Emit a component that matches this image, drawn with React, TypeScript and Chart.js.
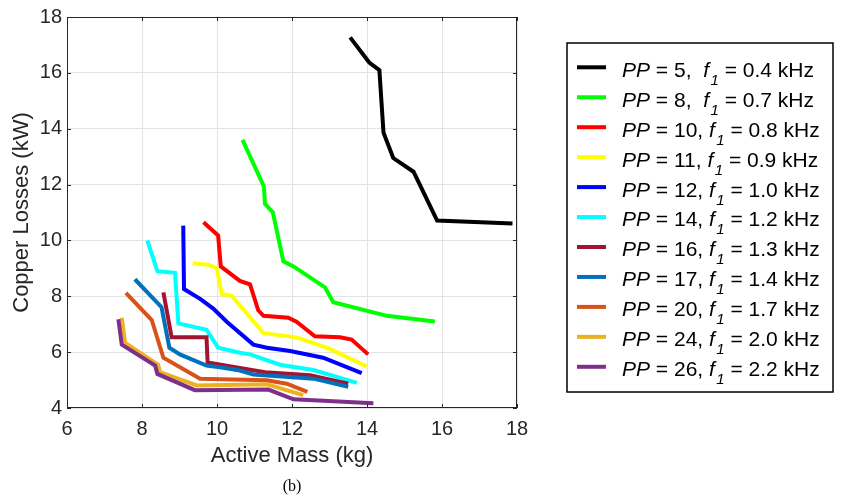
import React, { useEffect, useRef } from 'react';
import { Chart, registerables } from 'chart.js';

Chart.register(...registerables);

// ---- Data ----
const polePairs = [5, 8, 10, 11, 12, 14, 16, 17, 20, 24, 26];
const frequencies = ['0.4', '0.7', '0.8', '0.9', '1.0', '1.2', '1.3', '1.4', '1.7', '2.0', '2.2'];
const seriesColors = ['#000000', '#00ff00', '#ff0000', '#ffff00', '#0000ff', '#00ffff', '#a2142f', '#0072bd', '#d95319', '#edb120', '#7e2f8e'];

const xTicks = [6, 8, 10, 12, 14, 16, 18];
const yTicks = [4, 6, 8, 10, 12, 14, 16, 18];

const massPP5 = [13.55, 14.06, 14.33, 14.44, 14.70, 15.24, 15.87, 17.88];
const lossPP5 = [17.27, 16.37, 16.10, 13.86, 12.95, 12.46, 10.71, 10.61];

const massPP8 = [10.68, 11.25, 11.28, 11.49, 11.77, 12.04, 12.88, 13.10, 14.53, 15.81];
const lossPP8 = [13.60, 11.93, 11.31, 11.00, 9.25, 9.07, 8.32, 7.79, 7.30, 7.10];

const massPP10 = [9.64, 10.03, 10.10, 10.61, 10.88, 11.10, 11.24, 11.90, 12.12, 12.61, 13.28, 13.59, 14.03];
const lossPP10 = [10.65, 10.18, 9.07, 8.55, 8.43, 7.50, 7.30, 7.23, 7.09, 6.57, 6.53, 6.45, 5.92];

const massPP11 = [9.35, 9.77, 9.99, 10.13, 10.39, 11.24, 12.12, 12.93, 13.99];
const lossPP11 = [9.17, 9.13, 9.01, 8.08, 8.02, 6.68, 6.53, 6.16, 5.49];

const massPP12 = [9.10, 9.12, 9.55, 9.90, 10.26, 10.97, 11.33, 11.95, 12.83, 13.86];
const lossPP12 = [10.53, 8.26, 7.91, 7.56, 7.09, 6.27, 6.16, 6.04, 5.80, 5.25];

const massPP14 = [8.14, 8.41, 8.88, 8.97, 9.72, 10.03, 10.61, 10.88, 11.68, 12.57, 13.73];
const lossPP14 = [10.00, 8.90, 8.84, 7.03, 6.80, 6.16, 5.98, 5.92, 5.55, 5.36, 4.90];

const massPP16 = [8.57, 8.79, 9.72, 9.75, 11.28, 12.48, 13.50];
const lossPP16 = [8.14, 6.53, 6.53, 5.63, 5.28, 5.17, 4.87];

const massPP17 = [7.81, 8.52, 8.73, 9.01, 9.72, 10.08, 10.61, 10.97, 12.57, 13.50];
const lossPP17 = [8.61, 7.61, 6.16, 5.92, 5.52, 5.46, 5.34, 5.20, 5.05, 4.76];

const massPP20 = [7.57, 8.26, 8.57, 9.55, 11.33, 11.86, 12.41];
const lossPP20 = [8.12, 7.15, 5.80, 5.05, 4.99, 4.87, 4.58];

const massPP24 = [7.46, 7.55, 8.43, 8.48, 9.46, 11.33, 12.30];
const lossPP24 = [7.23, 6.33, 5.55, 5.28, 4.81, 4.85, 4.46];

const massPP26 = [7.37, 7.46, 8.35, 8.41, 9.41, 11.37, 12.04, 14.17];
const lossPP26 = [7.18, 6.27, 5.52, 5.22, 4.64, 4.66, 4.31, 4.17];

const massSeries = [massPP5, massPP8, massPP10, massPP11, massPP12, massPP14, massPP16, massPP17, massPP20, massPP24, massPP26];
const lossSeries = [lossPP5, lossPP8, lossPP10, lossPP11, lossPP12, lossPP14, lossPP16, lossPP17, lossPP20, lossPP24, lossPP26];

const FONT = "'Liberation Sans', Arial, Helvetica, sans-serif";

const framePlugin = {
  id: 'frameTicks',
  afterDatasetsDraw(chart: any) {
    const { ctx, chartArea, scales } = chart;
    const { left, right, top, bottom } = chartArea;
    ctx.save();
    ctx.strokeStyle = '#262626';
    ctx.lineWidth = 1;
    ctx.strokeRect(left + 0.5, top + 0.5, right - left - 1, bottom - top - 1);
    const len = 4;
    ctx.beginPath();
    xTicks.forEach((v) => {
      const px = Math.round(scales.x.getPixelForValue(v)) + 0.5;
      ctx.moveTo(px, bottom);
      ctx.lineTo(px, bottom - len);
      ctx.moveTo(px, top);
      ctx.lineTo(px, top + len);
    });
    yTicks.forEach((v) => {
      const py = Math.round(scales.y.getPixelForValue(v)) + 0.5;
      ctx.moveTo(left, py);
      ctx.lineTo(left + len, py);
      ctx.moveTo(right, py);
      ctx.lineTo(right - len, py);
    });
    ctx.stroke();
    ctx.restore();
  },
};

const legendPlugin = {
  id: 'customLegend',
  afterDraw(chart: any) {
    const { ctx } = chart;
    const bx = 567, by = 43, bw = 266, bh = 349;
    ctx.save();
    ctx.fillStyle = '#ffffff';
    ctx.fillRect(bx, by, bw, bh);
    ctx.strokeStyle = '#000000';
    ctx.lineWidth = 1.5;
    ctx.strokeRect(bx, by, bw, bh);
    const rowStart = 67.3;
    const rowGap = 29.95;
    const size = 21;
    const normal = `${size}px ${FONT}`;
    const italic = `italic ${size}px ${FONT}`;
    const sub = `italic 15px ${FONT}`;
    ctx.textBaseline = 'alphabetic';
    ctx.textAlign = 'left';
    chart.data.datasets.forEach((ds: any, i: number) => {
      const y = rowStart + i * rowGap;
      ctx.strokeStyle = ds.borderColor;
      ctx.lineWidth = 4;
      ctx.beginPath();
      ctx.moveTo(577, y);
      ctx.lineTo(606, y);
      ctx.stroke();
      const base = y + 9.4;
      let x = 622;
      ctx.fillStyle = '#000000';
      const parts: [string, string, number][] = [
        ['PP', italic, 0],
        [' = ' + polePairs[i] + (polePairs[i] < 10 ? ',  ' : ', '), normal, 0],
        ['f', italic, 0],
        ['1', sub, 8],
        [' = ' + frequencies[i] + ' kHz', normal, 0],
      ];
      parts.forEach(([t, f, dy]) => {
        ctx.font = f;
        ctx.fillText(t, x, base + dy);
        x += ctx.measureText(t).width + (t === 'f' ? 1.5 : 0);
      });
    });
    // caption
    ctx.font = `16px 'Liberation Serif', 'Times New Roman', serif`;
    ctx.textAlign = 'center';
    ctx.fillStyle = '#000000';
    ctx.fillText('(b)', 292, 491);
    ctx.restore();
  },
};

export default function App() {
  const canvasRef = useRef<HTMLCanvasElement | null>(null);

  useEffect(() => {
    const canvas = canvasRef.current;
    if (!canvas) return;
    const datasets = polePairs.map((pp, i) => ({
      label: `PP = ${pp}, f1 = ${frequencies[i]} kHz`,
      data: massSeries[i].map((m, j) => ({ x: m, y: lossSeries[i][j] })),
      borderColor: seriesColors[i],
      backgroundColor: seriesColors[i],
      borderWidth: 4,
      pointRadius: 0,
      tension: 0,
      fill: false,
      order: polePairs.length - i,
    }));
    const chart = new Chart(canvas, {
      type: 'line',
      data: { datasets },
      options: {
        responsive: false,
        animation: false,
        layout: { padding: { left: 0, top: 8, right: 327, bottom: 0 } },
        plugins: { legend: { display: false }, tooltip: { enabled: false } },
        scales: {
          x: {
            type: 'linear',
            min: 6,
            max: 18,
            afterBuildTicks: (scale: any) => {
              scale.ticks = xTicks.map((v) => ({ value: v }));
            },
            afterFit: (scale: any) => {
              scale.height = 88;
            },
            grid: { color: '#e3e3e3', lineWidth: 1, drawTicks: false },
            border: { display: false },
            ticks: { color: '#262626', font: { family: FONT, size: 20 }, padding: 9, maxRotation: 0 },
            title: {
              display: true,
              text: 'Active Mass (kg)',
              color: '#262626',
              font: { family: FONT, size: 22 },
              padding: { top: 0, bottom: 27 },
            },
          },
          y: {
            type: 'linear',
            min: 4,
            max: 18,
            afterBuildTicks: (scale: any) => {
              scale.ticks = yTicks.map((v) => ({ value: v }));
            },
            afterFit: (scale: any) => {
              scale.width = 67;
            },
            grid: { color: '#e3e3e3', lineWidth: 1, drawTicks: false },
            border: { display: false },
            ticks: { color: '#262626', font: { family: FONT, size: 20 }, padding: 5 },
            title: {
              display: true,
              text: 'Copper Losses (kW)',
              color: '#262626',
              font: { family: FONT, size: 22 },
              padding: { top: 9, bottom: 0 },
            },
          },
        },
      },
      plugins: [framePlugin, legendPlugin],
    });
    return () => chart.destroy();
  }, []);

  return (
    <div style={{ position: 'absolute', left: 0, top: 0, width: 844, height: 496, background: '#ffffff' }}>
      <canvas ref={canvasRef} width={844} height={496} />
    </div>
  );
}
